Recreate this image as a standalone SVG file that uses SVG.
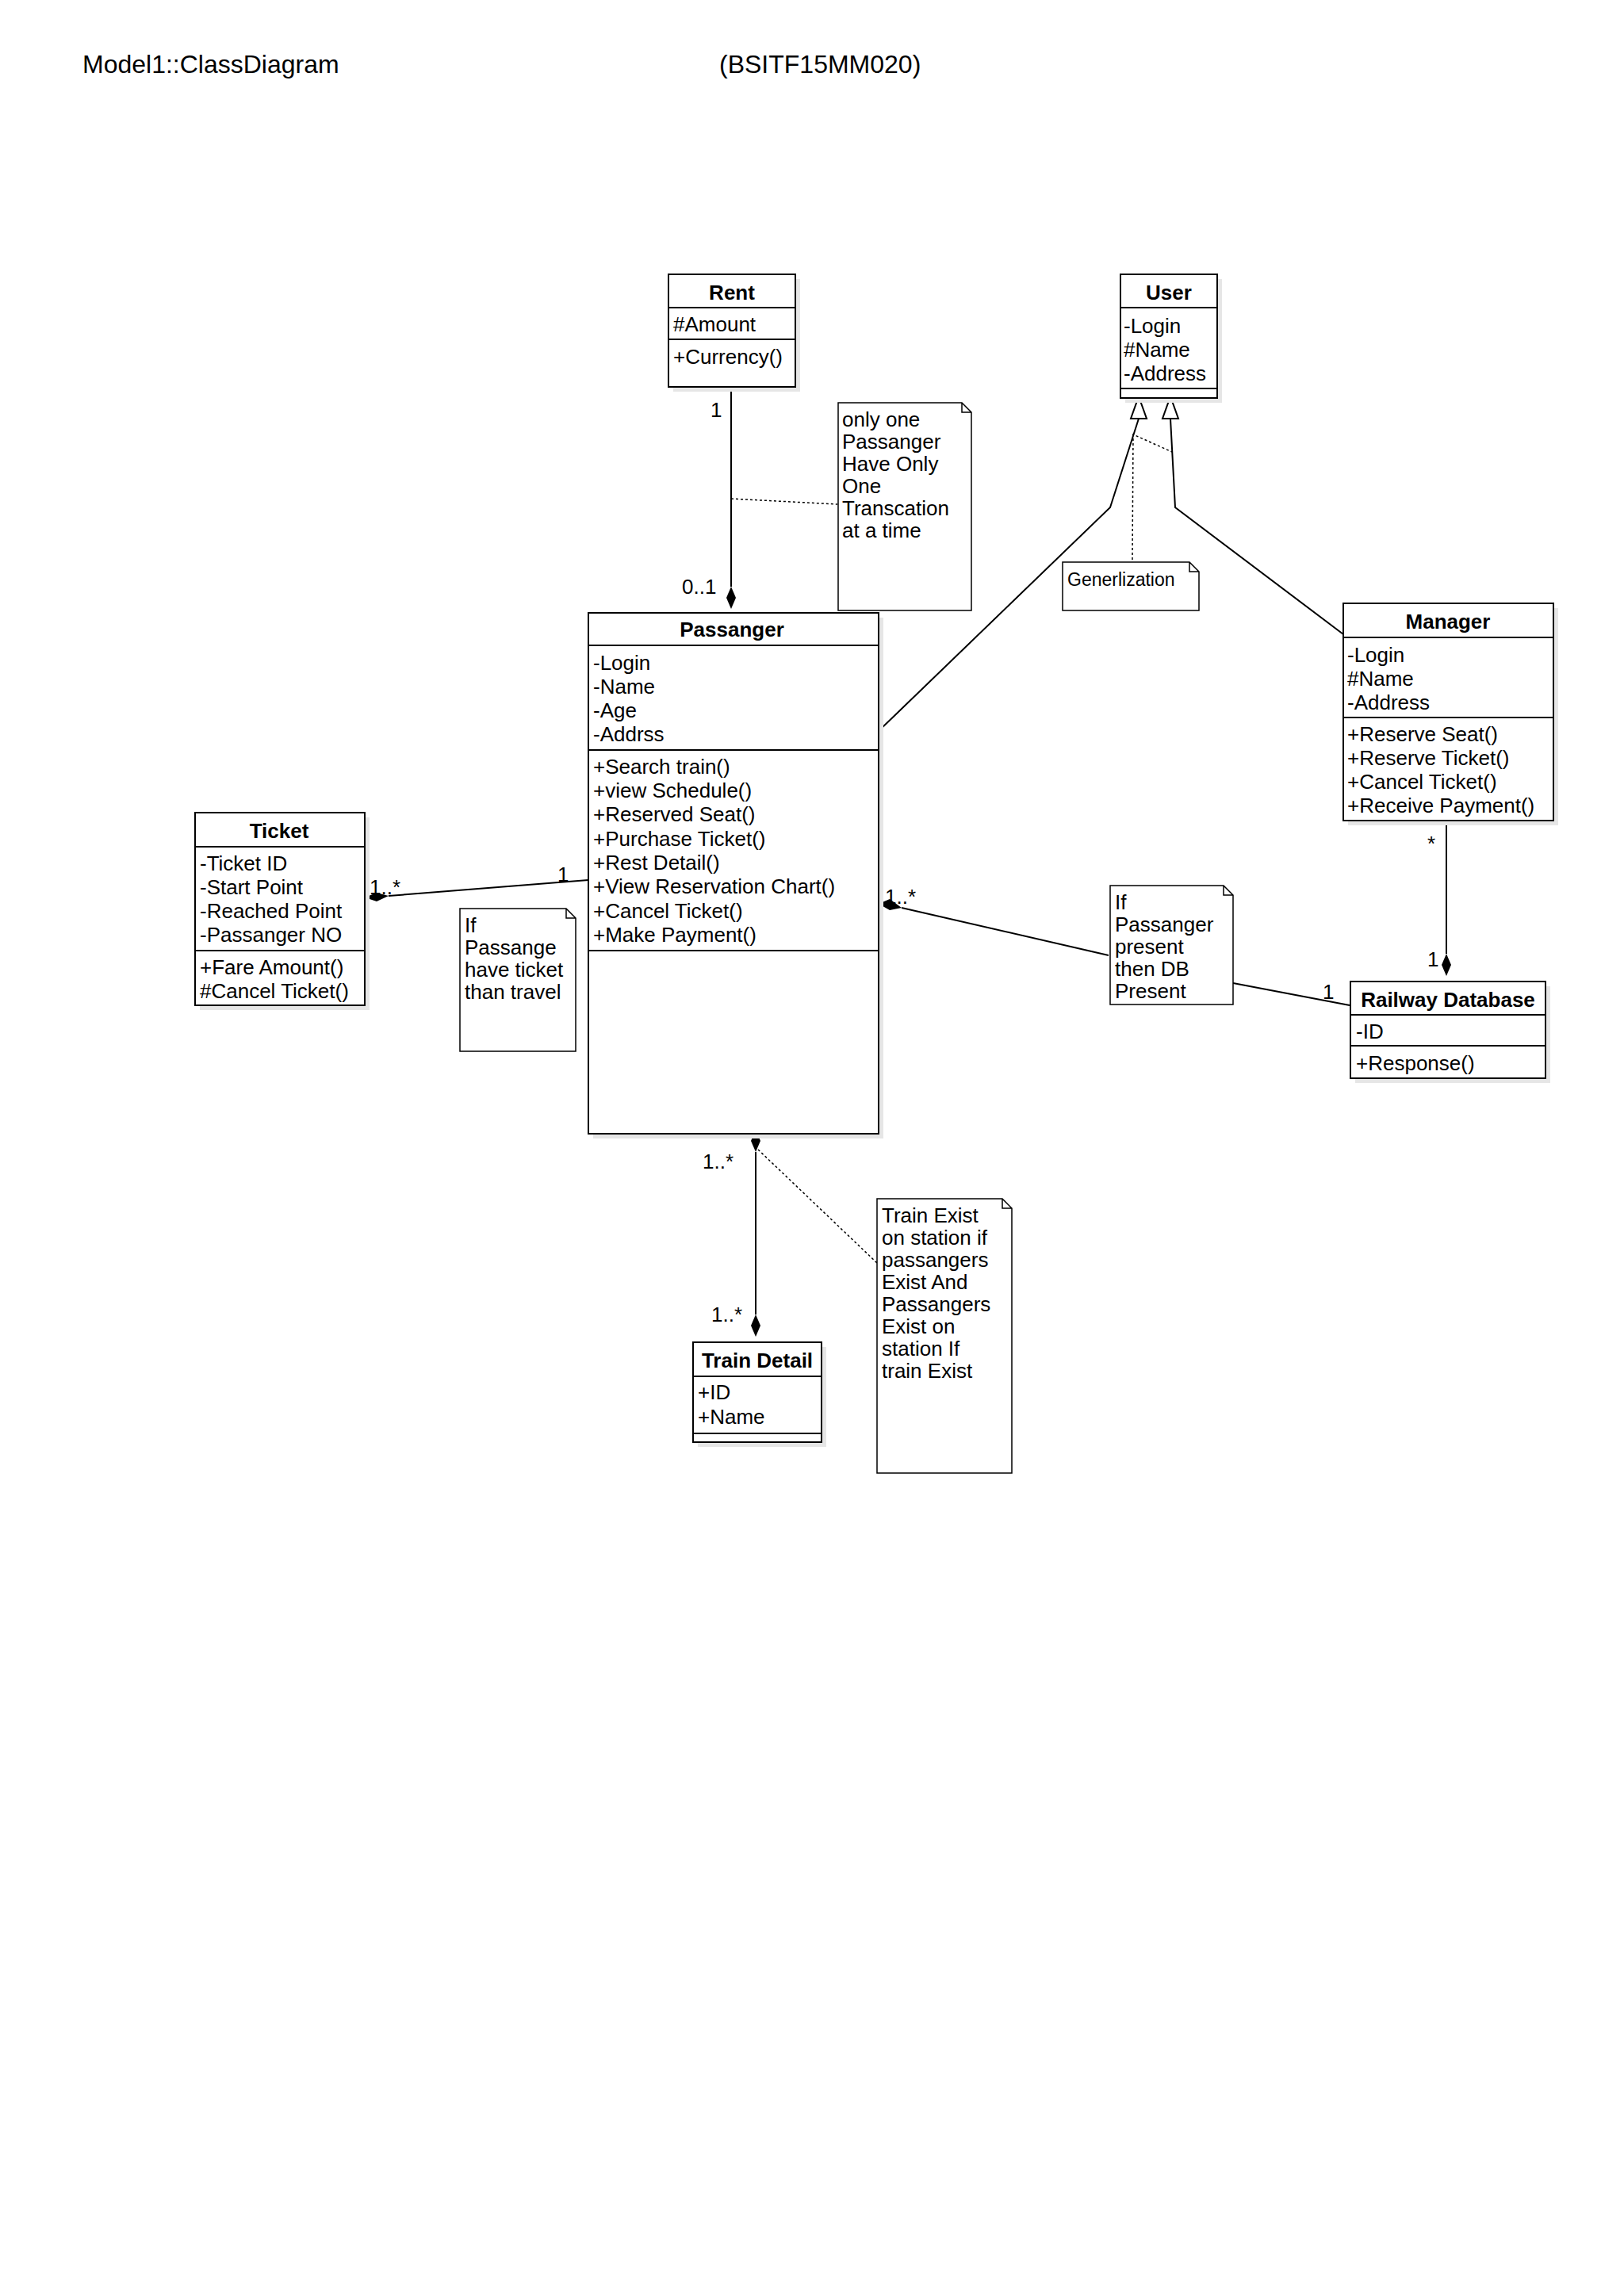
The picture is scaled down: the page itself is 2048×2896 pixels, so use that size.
<svg xmlns="http://www.w3.org/2000/svg" width="2048" height="2896" viewBox="0 0 2048 2896">
<style>
text{font-family:"Liberation Sans",Arial,sans-serif;font-size:26px;fill:#000}
.t{font-weight:bold;text-anchor:middle}
.b{fill:#fff;stroke:#000;stroke-width:2}
.s{fill:#e6e6e6;stroke:none}
.l{stroke:#000;stroke-width:2;fill:none}
.d{stroke:#000;stroke-width:1.5;fill:none;stroke-dasharray:3,3}
.n{fill:#fff;stroke:#000;stroke-width:1.5}
.sm{font-size:23px}
</style>
<rect width="2048" height="2896" fill="#fff"/>
<text x="104" y="92" style="font-size:32px">Model1::ClassDiagram</text>
<text x="907" y="92" style="font-size:32px">(BSITF15MM020)</text>

<g id="connectors">
<line class="l" x1="922" y1="488" x2="922" y2="740"/>
<polygon points="922,740 928,754 922,768 916,754" fill="#000"/>
<text x="896" y="526">1</text>
<text x="860" y="749">0..1</text>
<line class="d" x1="922" y1="629" x2="1056" y2="636"/>
<polyline class="l" points="1436,528 1400,640 1107,923"/>
<polygon points="1436,500 1446,528 1426,528" class="b"/>
<polyline class="l" points="1476,528 1482,640 1694,800"/>
<polygon points="1476,500 1486,528 1466,528" class="b"/>
<polyline class="d" points="1428,706 1429,548 1478,570"/>
<line class="l" x1="490" y1="1130" x2="742" y2="1110"/>
<polygon points="460,1132 475,1126 490,1130 475,1137" fill="#000"/>
<text x="466" y="1128">1..*</text>
<text x="703" y="1112">1</text>
<line class="l" x1="1137" y1="1145" x2="1398" y2="1205"/>
<polygon points="1108,1140 1122,1134 1137,1145 1122,1148" fill="#000"/>
<text x="1116" y="1140">1..*</text>
<line class="l" x1="1555" y1="1240" x2="1702" y2="1268"/>
<text x="1668" y="1260">1</text>
<line class="l" x1="1824" y1="1035" x2="1824" y2="1203"/>
<polygon points="1824,1203 1830,1217 1824,1231 1818,1217" fill="#000"/>
<text x="1800" y="1073">*</text>
<text x="1800" y="1219">1</text>
<line class="l" x1="953" y1="1453" x2="953" y2="1658"/>
<polygon points="953,1425 959,1439 953,1453 947,1439" fill="#000"/>
<polygon points="953,1658 959,1672 953,1686 947,1672" fill="#000"/>
<text x="886" y="1474">1..*</text>
<text x="897" y="1667">1..*</text>
<line class="d" x1="956" y1="1450" x2="1106" y2="1593"/>
</g>

<g id="rent">
<rect class="s" x="849" y="352" width="160" height="142"/>
<rect class="b" x="843" y="346" width="160" height="142"/>
<line class="l" x1="843" y1="388" x2="1003" y2="388"/>
<line class="l" x1="843" y1="428" x2="1003" y2="428"/>
<text class="t" x="923" y="378">Rent</text>
<text x="849" y="418">#Amount</text>
<text x="849" y="459">+Currency()</text>
</g>

<g id="user">
<rect class="s" x="1419" y="352" width="122" height="156"/>
<rect class="b" x="1413" y="346" width="122" height="156"/>
<line class="l" x1="1413" y1="388" x2="1535" y2="388"/>
<line class="l" x1="1413" y1="490" x2="1535" y2="490"/>
<text class="t" x="1474" y="378">User</text>
<text x="1417" y="420">-Login</text>
<text x="1417" y="450">#Name</text>
<text x="1417" y="480">-Address</text>
</g>

<g id="note1">
<path class="n" d="M1057,508 H1213 L1225,520 V770 H1057 Z M1213,508 V520 H1225"/>
<text x="1062" y="538">only one</text>
<text x="1062" y="566">Passanger</text>
<text x="1062" y="594">Have Only</text>
<text x="1062" y="622">One</text>
<text x="1062" y="650">Transcation</text>
<text x="1062" y="678">at a time</text>
</g>

<g id="gennote">
<path class="n" d="M1340,709 H1500 L1512,721 V770 H1340 Z M1500,709 V721 H1512"/>
<text class="sm" x="1346" y="739">Generlization</text>
</g>

<g id="passanger">
<rect class="s" x="748" y="779" width="366" height="657"/>
<rect class="b" x="742" y="773" width="366" height="657"/>
<line class="l" x1="742" y1="814" x2="1108" y2="814"/>
<line class="l" x1="742" y1="946" x2="1108" y2="946"/>
<line class="l" x1="742" y1="1199" x2="1108" y2="1199"/>
<text class="t" x="923" y="803">Passanger</text>
<text x="748" y="845">-Login</text>
<text x="748" y="875">-Name</text>
<text x="748" y="905">-Age</text>
<text x="748" y="935">-Addrss</text>
<text x="748" y="976">+Search train()</text>
<text x="748" y="1006">+view Schedule()</text>
<text x="748" y="1036">+Reserved Seat()</text>
<text x="748" y="1067">+Purchase Ticket()</text>
<text x="748" y="1097">+Rest Detail()</text>
<text x="748" y="1127">+View Reservation Chart()</text>
<text x="748" y="1158">+Cancel Ticket()</text>
<text x="748" y="1188">+Make Payment()</text>
</g>

<g id="manager">
<rect class="s" x="1700" y="767" width="265" height="274"/>
<rect class="b" x="1694" y="761" width="265" height="274"/>
<line class="l" x1="1694" y1="804" x2="1959" y2="804"/>
<line class="l" x1="1694" y1="905" x2="1959" y2="905"/>
<text class="t" x="1826" y="793">Manager</text>
<text x="1699" y="835">-Login</text>
<text x="1699" y="865">#Name</text>
<text x="1699" y="895">-Address</text>
<text x="1699" y="935">+Reserve Seat()</text>
<text x="1699" y="965">+Reserve Ticket()</text>
<text x="1699" y="995">+Cancel Ticket()</text>
<text x="1699" y="1025">+Receive Payment()</text>
</g>

<g id="ticket">
<rect class="s" x="252" y="1031" width="214" height="243"/>
<rect class="b" x="246" y="1025" width="214" height="243"/>
<line class="l" x1="246" y1="1068" x2="460" y2="1068"/>
<line class="l" x1="246" y1="1199" x2="460" y2="1199"/>
<text class="t" x="352" y="1057">Ticket</text>
<text x="252" y="1098">-Ticket ID</text>
<text x="252" y="1128">-Start Point</text>
<text x="252" y="1158">-Reached Point</text>
<text x="252" y="1188">-Passanger NO</text>
<text x="252" y="1229">+Fare Amount()</text>
<text x="252" y="1259">#Cancel Ticket()</text>
</g>

<g id="note2">
<path class="n" d="M580,1146 H714 L726,1158 V1326 H580 Z M714,1146 V1158 H726"/>
<text x="586" y="1176">If</text>
<text x="586" y="1204">Passange</text>
<text x="586" y="1232">have ticket</text>
<text x="586" y="1260">than travel</text>
</g>

<g id="note3">
<path class="n" d="M1400,1117 H1543 L1555,1129 V1267 H1400 Z M1543,1117 V1129 H1555"/>
<text x="1406" y="1147">If</text>
<text x="1406" y="1175">Passanger</text>
<text x="1406" y="1203">present</text>
<text x="1406" y="1231">then DB</text>
<text x="1406" y="1259">Present</text>
</g>

<g id="railwaydb">
<rect class="s" x="1709" y="1244" width="246" height="122"/>
<rect class="b" x="1703" y="1238" width="246" height="122"/>
<line class="l" x1="1703" y1="1280" x2="1949" y2="1280"/>
<line class="l" x1="1703" y1="1319" x2="1949" y2="1319"/>
<text class="t" x="1826" y="1270">Railway Database</text>
<text x="1710" y="1310">-ID</text>
<text x="1710" y="1350">+Response()</text>
</g>

<g id="trainnote">
<path class="n" d="M1106,1512 H1264 L1276,1524 V1858 H1106 Z M1264,1512 V1524 H1276"/>
<text x="1112" y="1542">Train Exist</text>
<text x="1112" y="1570">on station if</text>
<text x="1112" y="1598">passangers</text>
<text x="1112" y="1626">Exist And</text>
<text x="1112" y="1654">Passangers</text>
<text x="1112" y="1682">Exist on</text>
<text x="1112" y="1710">station If</text>
<text x="1112" y="1738">train Exist</text>
</g>

<g id="traindetail">
<rect class="s" x="880" y="1699" width="162" height="126"/>
<rect class="b" x="874" y="1693" width="162" height="126"/>
<line class="l" x1="874" y1="1736" x2="1036" y2="1736"/>
<line class="l" x1="874" y1="1808" x2="1036" y2="1808"/>
<text class="t" x="955" y="1725">Train Detail</text>
<text x="880" y="1765">+ID</text>
<text x="880" y="1796">+Name</text>
</g>
</svg>
